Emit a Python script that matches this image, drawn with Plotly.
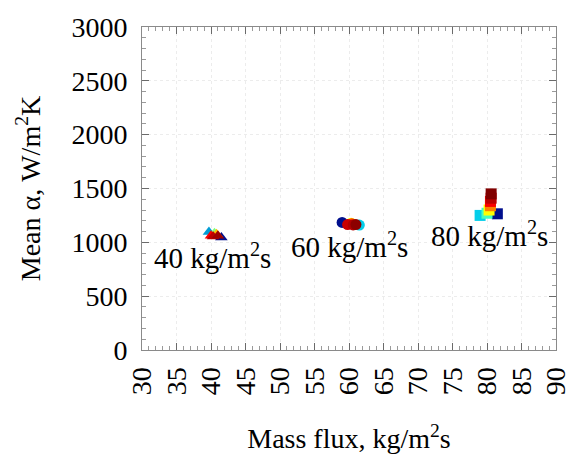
import plotly.graph_objects as go

# 40 kg/m2s cluster (triangles)
x40 = [41.5, 39.7, 40.5, 40.8, 40.0, 40.3, 41.0]
y40 = [1045, 1095, 1085, 1075, 1060, 1055, 1060]
c40 = [0.05, 0.3, 0.5, 0.65, 0.8, 0.9, 0.95]

# 60 kg/m2s cluster (circles)
x60 = [59.0, 61.5, 60.3, 60.4, 59.8, 60.6, 61.0]
y60 = [1185, 1160, 1178, 1172, 1165, 1162, 1165]
c60 = [0.05, 0.35, 0.6, 0.75, 0.88, 0.92, 0.98]

# 80 kg/m2s cluster (squares)
x80 = [81.5, 79.0, 80.0, 80.3, 80.5, 80.5, 80.6, 80.6]
y80 = [1265, 1250, 1270, 1300, 1340, 1380, 1410, 1450]
c80 = [0.05, 0.35, 0.45, 0.6, 0.7, 0.8, 0.9, 1.0]

labels = ["40 kg/m<sup>2</sup>s", "60 kg/m<sup>2</sup>s", "80 kg/m<sup>2</sup>s"]
label_x = [40.2, 60, 80.3]
label_y = [870, 975, 1075]

xticks = list(range(30, 91, 5))
yticks = list(range(0, 3001, 500))

FONT = "Liberation Serif"

fig = go.Figure()
for xs, ys, cs, sym in [(x40, y40, c40, "triangle-up"), (x60, y60, c60, "circle"), (x80, y80, c80, "square")]:
    fig.add_trace(go.Scatter(
        x=xs, y=ys, mode="markers",
        marker=dict(symbol=sym, size=11, color=cs, colorscale="Jet", cmin=0, cmax=1,
                    line=dict(width=0)),
        showlegend=False))

for t, xx, yy in zip(labels, label_x, label_y):
    fig.add_annotation(x=xx, y=yy, text=t, showarrow=False,
                       font=dict(family=FONT, size=29, color="black"))

axis_common = dict(
    showline=True, linecolor="#8a8a8a", linewidth=1, mirror="ticks",
    ticks="inside", ticklen=7, tickcolor="#6a6a6a", tickwidth=1,
    showgrid=True, gridcolor="#ececec", griddash="dot", gridwidth=1,
    zeroline=False,
    tickfont=dict(family=FONT, size=28, color="black"),
    title_font=dict(family=FONT, size=28, color="black"),
)

fig.update_xaxes(
    range=[30, 90], tickvals=xticks, ticktext=[str(v) for v in xticks],
    tickangle=-90, ticklabelstandoff=5,
    title_text="Mass flux, kg/m<sup>2</sup>s", title_standoff=34,
    minor=dict(dtick=1, ticks="inside", ticklen=4, tickcolor="#9a9a9a", showgrid=False),
    **axis_common)
fig.update_yaxes(
    range=[0, 3000], tickvals=yticks, ticktext=[str(v) for v in yticks],
    ticklabelstandoff=8,
    title_text="Mean α, W/m<sup>2</sup>K", title_standoff=22,
    minor=dict(dtick=100, ticks="inside", ticklen=4, tickcolor="#9a9a9a", showgrid=False),
    **axis_common)

fig.update_layout(
    width=583, height=461,
    margin=dict(l=142, r=21, t=21, b=109),
    paper_bgcolor="white", plot_bgcolor="white",
)

fig.write_html("out.html")
